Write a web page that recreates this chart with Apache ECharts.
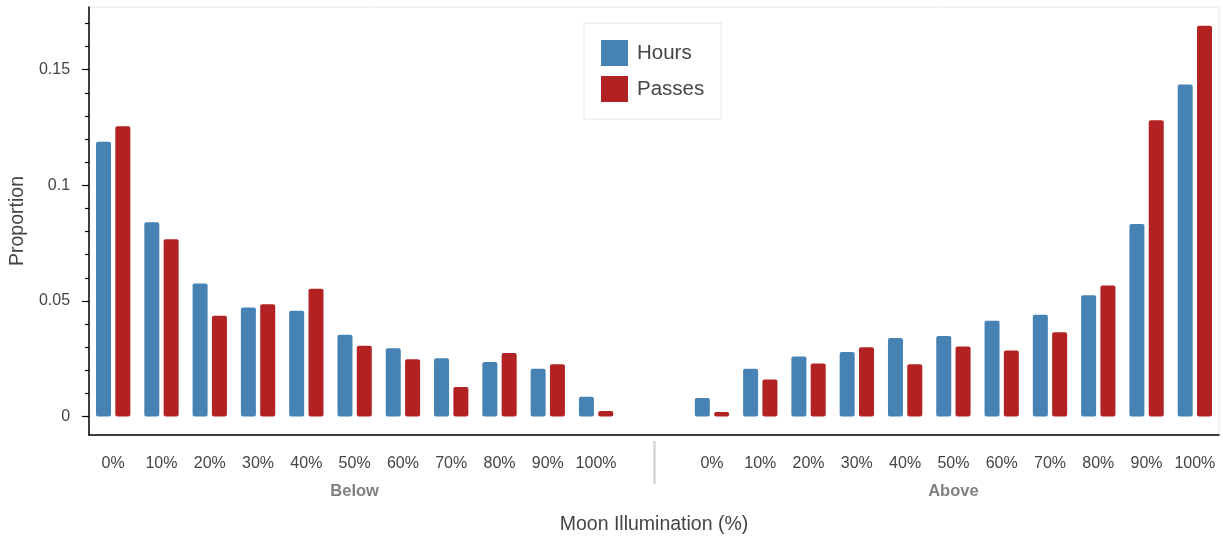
<!DOCTYPE html>
<html>
<head>
<meta charset="utf-8">
<script src="https://cdn.jsdelivr.net/npm/echarts@6/dist/echarts.min.js"></script>
<style>
html,body{margin:0;padding:0;background:#fff;}
#chart{width:1223px;height:540px;}
</style>
</head>
<body>
<div id="chart"></div>
<script>
// ---- data ----
const groups = ['Below', 'Above'];
const levels = ['0%', '10%', '20%', '30%', '40%', '50%', '60%', '70%', '80%', '90%', '100%'];
const hoursBelow  = [0.1188, 0.0840, 0.0575, 0.0471, 0.0457, 0.0354, 0.0295, 0.0252, 0.0236, 0.0207, 0.0085];
const passesBelow = [0.1255, 0.0767, 0.0436, 0.0486, 0.0552, 0.0306, 0.0248, 0.0128, 0.0275, 0.0226, 0.0024];
const hoursAbove  = [0.0080, 0.0207, 0.0260, 0.0279, 0.0339, 0.0348, 0.0414, 0.0440, 0.0524, 0.0832, 0.1436];
const passesAbove = [0.0019, 0.0160, 0.0229, 0.0299, 0.0226, 0.0303, 0.0285, 0.0364, 0.0567, 0.1281, 0.1690];
const yMajorTicks = [0, 0.05, 0.1, 0.15];
const yMinorTicks = [0.01, 0.02, 0.03, 0.04, 0.06, 0.07, 0.08, 0.09, 0.11, 0.12, 0.13, 0.14, 0.16, 0.17];
const seriesNames = ['Hours', 'Passes'];

// ---- factor layout (nested categorical scale) ----
const GROUP_PAD = 1.4;          // extra space between groups, in category units
const DODGE = 0.2;              // half distance between the two bars of a category
const groupStart = g => g * (levels.length - 1 + 1 + GROUP_PAD);
const catPos = [];
const catLabel = [];
groups.forEach((g, gi) => levels.forEach((l, li) => { catPos.push(groupStart(gi) + li); catLabel.push(l); }));
const groupCenters = groups.map((g, gi) => groupStart(gi) + (levels.length - 1) / 2);
const separatorPos = (groupStart(0) + levels.length - 1 + groupStart(1)) / 2;
const xMin = -0.5, xMax = groupStart(1) + levels.length - 1 + 0.5;

function pairs(vals, gi, off) { return vals.map((v, i) => [groupStart(gi) + i + off, v]); }
const hoursData = pairs(hoursBelow, 0, -DODGE).concat(pairs(hoursAbove, 1, -DODGE));
const passesData = pairs(passesBelow, 0, DODGE).concat(pairs(passesAbove, 1, DODGE));

function nearestIndex(arr, v) {
  let best = 0, bd = Infinity;
  arr.forEach((p, i) => { const d = Math.abs(p - v); if (d < bd) { bd = d; best = i; } });
  return best;
}

const FONT = 'Liberation Sans';
const chart = echarts.init(document.getElementById('chart'), null, { renderer: 'canvas' });
chart.setOption({
  animation: false,
  backgroundColor: '#ffffff',
  textStyle: { fontFamily: FONT },
  grid: { left: 89, right: 4, top: 7, bottom: 103, show: true, borderColor: '#e5e5e5', borderWidth: 1, backgroundColor: 'transparent' },
  legend: {
    orient: 'vertical', left: 584, top: 23, padding: [17, 17, 17, 17],
    itemWidth: 27, itemHeight: 26, itemGap: 10,
    borderColor: '#e5e5e5', borderWidth: 1, backgroundColor: '#fff',
    icon: 'rect',
    textStyle: { fontSize: 20.5, color: '#444', fontFamily: FONT, padding: [0, 0, 0, 4] },
    data: seriesNames
  },
  xAxis: [
    {
      type: 'value', min: xMin, max: xMax, position: 'bottom', offset: 0,
      axisLine: { show: true, onZero: false, lineStyle: { color: '#000', width: 1.5 } },
      axisTick: { show: false },
      splitLine: { show: false },
      axisLabel: {
        customValues: catPos, margin: 21, fontSize: 16, color: '#444', fontFamily: FONT,
        formatter: v => catLabel[nearestIndex(catPos, v)]
      },
      name: 'Moon Illumination (%)', nameLocation: 'middle', nameGap: 80,
      nameTextStyle: { fontSize: 19.5, color: '#444', fontFamily: FONT }
    },
    {
      type: 'value', min: xMin, max: xMax, position: 'bottom', offset: 0,
      axisLine: { show: false, onZero: false }, axisTick: { show: false }, splitLine: { show: false },
      axisLabel: {
        customValues: groupCenters, margin: 48, fontSize: 16.5, fontWeight: 'bold', color: '#808080', fontFamily: FONT,
        formatter: v => groups[nearestIndex(groupCenters, v)]
      }
    },
    {
      type: 'value', min: xMin, max: xMax, position: 'bottom', offset: 6,
      axisLine: { show: false, onZero: false }, splitLine: { show: false }, axisLabel: { show: false },
      axisTick: { show: true, customValues: [separatorPos], length: 43, lineStyle: { color: '#d4d4d4', width: 2.5 } }
    }
  ],
  yAxis: [
    {
      type: 'value', min: -0.008, max: 0.1771, position: 'left', offset: 0,
      axisLine: { show: true, onZero: false, lineStyle: { color: '#000', width: 1.5 } },
      axisTick: { show: true, customValues: yMajorTicks, length: 7, lineStyle: { color: '#000', width: 1.2 } },
      splitLine: { show: false },
      axisLabel: { customValues: yMajorTicks, margin: 19, fontSize: 16, color: '#444', fontFamily: FONT },
      name: 'Proportion', nameLocation: 'middle', nameGap: 57,
      nameTextStyle: { fontSize: 19.5, color: '#444', fontFamily: FONT }
    },
    {
      type: 'value', min: -0.008, max: 0.1771, position: 'left', offset: 0,
      axisLine: { show: false, onZero: false }, splitLine: { show: false }, axisLabel: { show: false },
      axisTick: { show: true, customValues: yMinorTicks, length: 4, lineStyle: { color: '#000', width: 1.2 } }
    }
  ],
  series: [
    {
      name: seriesNames[0], type: 'bar', xAxisIndex: 0, yAxisIndex: 0,
      data: hoursData, barWidth: 15, barGap: '-100%',
      itemStyle: { color: '#4682b4', borderRadius: 2 }
    },
    {
      name: seriesNames[1], type: 'bar', xAxisIndex: 0, yAxisIndex: 0,
      data: passesData, barWidth: 15, barGap: '-100%',
      itemStyle: { color: '#b22222', borderRadius: 2 }
    }
  ]
});
</script>
</body>
</html>
